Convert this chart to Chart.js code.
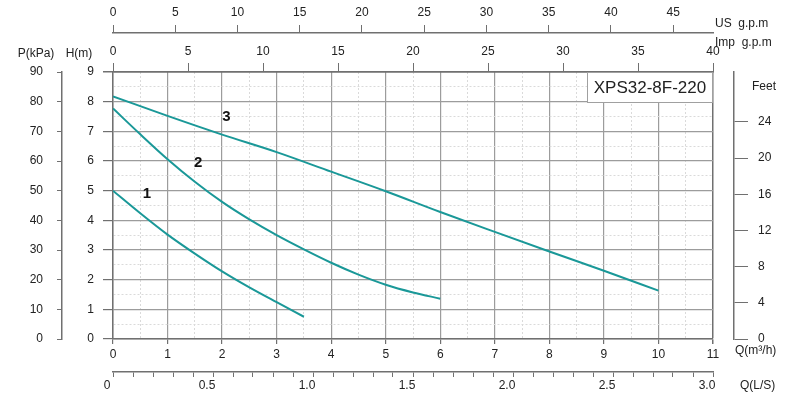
<!DOCTYPE html>
<html>
<head>
<meta charset="utf-8">
<script src="https://cdn.jsdelivr.net/npm/chart.js@4"></script>
<style>
  body { margin: 0; background: #fff; }
  #wrap { width: 800px; height: 400px; }
</style>
</head>
<body>
<div id="wrap"><canvas id="myChart" width="800" height="400"></canvas></div>
<script>
// Curve 1
const q1 = [0, 0.5, 1, 1.5, 2, 2.5, 3, 3.5];
const h1 = [5.0, 4.24, 3.52, 2.88, 2.28, 1.74, 1.24, 0.75];
// Curve 2
const q2 = [0, 0.5, 1, 1.5, 2, 2.5, 3, 3.5, 4, 4.5, 5, 5.5, 6];
const h2 = [7.77, 6.9, 6.06, 5.3, 4.62, 4.03, 3.5, 3.02, 2.57, 2.17, 1.83, 1.57, 1.36];
// Curve 3
const q3 = [0, 1, 2, 3, 4, 5, 6, 7, 8, 9, 10];
const h3 = [8.18, 7.52, 6.89, 6.3, 5.64, 4.98, 4.28, 3.61, 2.95, 2.30, 1.63];

const curveNames = ['1', '2', '3'];
const curveNameQ = [0.62, 1.56, 2.08];
const curveNameH = [4.9, 5.95, 7.48];
const modelName = 'XPS32-8F-220';

const teal = '#1a9898';
const axisGray = '#707070';
const textColor = '#222';
const fontFam = "'Liberation Sans', Arial, sans-serif";
const tickFont = { family: fontFam, size: 12 };

function toPoints(qs, hs) {
    return qs.map((q, i) => ({ x: q, y: hs[i] }));
}

function isWhole(v) {
    return Math.abs(v - Math.round(v)) < 1e-6;
}

// grid colours: whole units darker, half units light dotted
function gridColor(c, last) {
    if (!c.tick) return axisGray;
    if (Math.abs(c.tick.value - last) < 1e-6) return axisGray;
    return isWhole(c.tick.value) ? '#9c9c9c' : '#dadada';
}
function gridWidth(c, last) {
    if (!c.tick) return 1.5;
    if (Math.abs(c.tick.value - last) < 1e-6) return 1.5;
    return isWhole(c.tick.value) ? 1.2 : 1;
}
function gridDash(c) {
    if (!c.tick) return [];
    return isWhole(c.tick.value) ? [] : [2, 2];
}
function tickCol(c) {
    if (!c.tick) return axisGray;
    return isWhole(c.tick.value) ? axisGray : 'rgba(0,0,0,0)';
}

const extras = {
    id: 'extras',
    afterDraw(chart) {
        const ctx = chart.ctx;
        const xs = chart.scales.x;
        const ys = chart.scales.y;
        ctx.save();
        ctx.fillStyle = textColor;
        ctx.font = '12px ' + fontFam;
        ctx.textBaseline = 'middle';
        ctx.textAlign = 'center';
        ctx.fillText('P(kPa)', 36, 54);
        ctx.fillText('H(m)', 79, 54);
        ctx.fillText('Feet', 764, 87);
        ctx.textAlign = 'left';
        ctx.fillText('US  g.p.m', 715, 24);
        ctx.fillText('Imp  g.p.m', 715, 43);
        ctx.fillText('Q(m\u00b3/h)', 735, 351);
        ctx.fillText('Q(L/S)', 740, 386);

        // model box in the top right corner of the plot
        const a = chart.chartArea;
        const bw = 126, bh = 31;
        ctx.fillStyle = '#fff';
        ctx.fillRect(a.right - bw, a.top, bw, bh);
        ctx.strokeStyle = '#a0a0a0';
        ctx.lineWidth = 1;
        ctx.strokeRect(a.right - bw + 0.5, a.top + 0.5, bw - 1, bh - 1);
        ctx.fillStyle = textColor;
        ctx.font = '17px ' + fontFam;
        ctx.textAlign = 'center';
        ctx.fillText(modelName, a.right - bw / 2, a.top + bh / 2 + 1);

        // curve numbers
        ctx.font = 'bold 15px ' + fontFam;
        ctx.fillStyle = '#111';
        for (let i = 0; i < curveNames.length; i++) {
            ctx.fillText(curveNames[i], xs.getPixelForValue(curveNameQ[i]), ys.getPixelForValue(curveNameH[i]));
        }
        ctx.restore();
    }
};

const lineStyle = {
    borderColor: teal,
    borderWidth: 2,
    pointRadius: 0,
    fill: false,
    cubicInterpolationMode: 'monotone',
    xAxisID: 'x',
    yAxisID: 'y',
};

let myChart = document.getElementById('myChart').getContext('2d');
window.pumpChart = new Chart(myChart, {
    type: 'line',
    data: {
        datasets: [
            Object.assign({ label: curveNames[0], data: toPoints(q1, h1) }, lineStyle),
            Object.assign({ label: curveNames[1], data: toPoints(q2, h2) }, lineStyle),
            Object.assign({ label: curveNames[2], data: toPoints(q3, h3) }, lineStyle),
        ]
    },
    options: {
        responsive: false,
        animation: false,
        events: [],
        layout: { padding: 0 },
        plugins: {
            legend: { display: false },
            tooltip: { enabled: false },
        },
        scales: {
            x: {
                type: 'linear', position: 'bottom', weight: 0, min: 0, max: 11,
                ticks: { stepSize: 0.5, autoSkip: false, maxRotation: 0, color: textColor, font: tickFont, padding: 3,
                    callback: v => isWhole(v) ? Math.round(v) : '' },
                grid: { color: c => gridColor(c, 11), lineWidth: c => gridWidth(c, 11), tickLength: 5, tickColor: tickCol },
                border: { display: true, color: axisGray, width: 1.5, dash: gridDash },
                afterFit: s => { s.height = 33; },
            },
            xLS: {
                type: 'linear', position: 'bottom', weight: 1, min: 0, max: 3,
                ticks: { stepSize: 0.1, autoSkip: false, maxRotation: 0, color: textColor, font: tickFont, padding: 1, labelOffset: -6,
                    callback: v => {
                        if (Math.abs(v * 2 - Math.round(v * 2)) > 1e-6) return '';
                        return v === 0 ? '0' : v.toFixed(1);
                    } },
                grid: { drawOnChartArea: false, tickLength: 5, color: axisGray, tickColor: axisGray },
                border: { display: true, color: axisGray, width: 1.5 },
                afterFit: s => { s.height = 28; },
            },
            xImp: {
                type: 'linear', position: 'top', weight: 0, min: 0, max: 40,
                ticks: { stepSize: 5, autoSkip: false, maxRotation: 0, color: textColor, font: tickFont, padding: 4 },
                grid: { drawOnChartArea: false, tickLength: 9, color: axisGray, tickColor: axisGray },
                border: { display: true, color: axisGray, width: 1.5 },
                afterFit: s => { s.height = 39; },
            },
            xUS: {
                type: 'linear', position: 'top', weight: 1, min: 0, max: 48.2,
                afterBuildTicks: s => { s.ticks = s.ticks.filter(t => t.value <= 45); },
                ticks: { stepSize: 5, includeBounds: false, autoSkip: false, maxRotation: 0, color: textColor, font: tickFont, padding: 5 },
                grid: { drawOnChartArea: false, tickLength: 8, color: axisGray, tickColor: axisGray },
                border: { display: true, color: axisGray, width: 1.5 },
                afterFit: s => { s.height = 33; },
            },
            y: {
                type: 'linear', position: 'left', weight: 0, min: 0, max: 9,
                ticks: { stepSize: 0.5, autoSkip: false, color: textColor, font: tickFont, padding: 9,
                    callback: v => isWhole(v) ? Math.round(v) : '' },
                grid: { color: c => gridColor(c, 9), lineWidth: c => gridWidth(c, 9), tickLength: 10, tickColor: tickCol },
                border: { display: true, color: axisGray, width: 1.5, dash: gridDash },
                afterFit: s => { s.width = 51; },
            },
            yP: {
                type: 'linear', position: 'left', weight: 1, min: 0, max: 90,
                ticks: { stepSize: 10, autoSkip: false, color: textColor, font: tickFont, padding: 14 },
                grid: { drawOnChartArea: false, tickLength: 5, color: axisGray, tickColor: axisGray },
                border: { display: true, color: axisGray, width: 1.5 },
                afterFit: s => { s.width = 62; },
            },
            ySpace: {
                type: 'linear', position: 'right', weight: 0,
                ticks: { display: false },
                grid: { display: false },
                border: { display: false },
                afterFit: s => { s.width = 21; },
            },
            yFt: {
                type: 'linear', position: 'right', weight: 1, min: 0, max: 9 * 3.28084,
                afterBuildTicks: s => { s.ticks = s.ticks.filter(t => t.value <= 24); },
                ticks: { stepSize: 4, includeBounds: false, autoSkip: false, color: textColor, font: tickFont, padding: 10 },
                grid: { drawOnChartArea: false, tickLength: 14, color: axisGray, tickColor: axisGray },
                border: { display: true, color: axisGray, width: 1.5 },
                afterFit: s => { s.width = 66; },
            },
        },
    },
    plugins: [extras],
});
</script>
</body>
</html>
